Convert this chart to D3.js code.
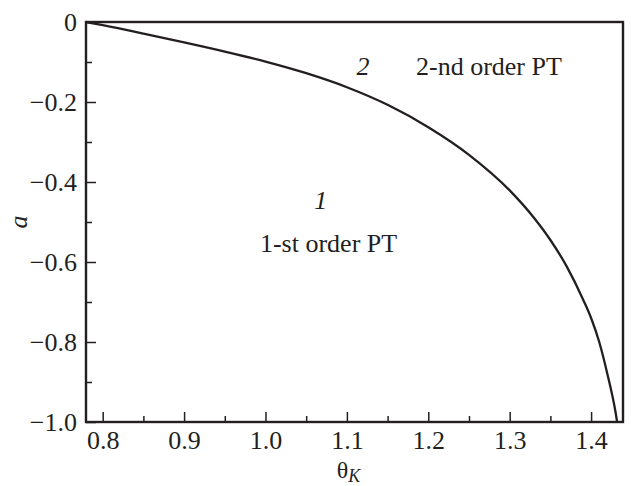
<!DOCTYPE html>
<html>
<head>
<meta charset="utf-8">
<script src="https://cdn.jsdelivr.net/npm/d3@7"></script>
<style>
  body { margin: 0; background: #fff; }
</style>
</head>
<body>
<div id="chart"></div>
<script>
// Phase boundary a(theta_K)
const theta = [0.7795, 0.80, 0.85, 0.90, 0.95, 1.00, 1.05, 1.10, 1.15, 1.20, 1.25, 1.30, 1.33, 1.35, 1.37, 1.39, 1.40, 1.41, 1.42, 1.43, 1.432];
const aVals = [0, -0.008, -0.029, -0.051, -0.074, -0.099, -0.128, -0.163, -0.207, -0.263, -0.332, -0.421, -0.490, -0.545, -0.611, -0.693, -0.740, -0.800, -0.880, -0.975, -1.0];

const xMajor = [0.8, 0.9, 1.0, 1.1, 1.2, 1.3, 1.4];
const xMinor = [0.85, 0.95, 1.05, 1.15, 1.25, 1.35];
const yMajor = [0, -0.2, -0.4, -0.6, -0.8, -1.0];
const yMinor = [-0.1, -0.3, -0.5, -0.7, -0.9];

// Region annotations (data coordinates)
const notes = [
    { text: "2", theta: 1.1198, a: -0.1325, italic: true, anchor: "middle" },
    { text: "2-nd order PT", theta: 1.1849, a: -0.1325, italic: false, anchor: "start" },
    { text: "1", theta: 1.068, a: -0.4675, italic: true, anchor: "middle" },
    { text: "1-st order PT", theta: 0.9932, a: -0.575, italic: false, anchor: "start" }
];

const W = 631, H = 486;
const margin = { top: 22, right: 8, bottom: 64, left: 86 };
const width = W - margin.left - margin.right;
const height = H - margin.top - margin.bottom;
const ink = "#231f20";
const serif = "'Liberation Serif', 'Times New Roman', serif";

const svg = d3.select("#chart")
    .append("svg")
    .attr("width", W)
    .attr("height", H)
    .append("g")
    .attr("transform", `translate(${margin.left},${margin.top})`);

const x = d3.scaleLinear().domain([0.7795, 1.4392]).range([0, width]);
const y = d3.scaleLinear().domain([-1, 0]).range([height, 0]);

const fmtY = d => d === 0 ? "0" : d3.format(".1f")(d).replace("-", "\u2212");

// Major ticks with labels
svg.append("g")
    .attr("transform", `translate(0,${height})`)
    .call(d3.axisBottom(x).tickValues(xMajor).tickFormat(d3.format(".1f"))
        .tickSize(-10).tickPadding(9));
svg.append("g")
    .call(d3.axisLeft(y).tickValues(yMajor).tickFormat(fmtY)
        .tickSize(-10).tickPadding(9));

// Minor ticks
svg.append("g")
    .attr("transform", `translate(0,${height})`)
    .call(d3.axisBottom(x).tickValues(xMinor).tickFormat("").tickSize(-6));
svg.append("g")
    .call(d3.axisLeft(y).tickValues(yMinor).tickFormat("").tickSize(-6));

svg.selectAll(".domain").remove();
svg.selectAll(".tick line").attr("stroke", ink).attr("stroke-width", 1.5);
svg.selectAll(".tick text")
    .style("font-size", "26px")
    .style("font-family", serif)
    .attr("fill", ink);

// Curve
const line = d3.line()
    .x((d, i) => x(theta[i]))
    .y(d => y(d))
    .curve(d3.curveMonotoneX);

svg.append("path")
    .datum(aVals)
    .attr("fill", "none")
    .attr("stroke", ink)
    .attr("stroke-width", 2.3)
    .attr("d", line);

// Frame
svg.append("rect")
    .attr("x", 0)
    .attr("y", 0)
    .attr("width", width)
    .attr("height", height)
    .attr("fill", "none")
    .attr("stroke", ink)
    .attr("stroke-width", 2.4);

// Annotations
notes.forEach(n => {
    svg.append("text")
        .attr("x", x(n.theta))
        .attr("y", y(n.a))
        .attr("text-anchor", n.anchor)
        .attr("fill", ink)
        .style("font-family", serif)
        .style("font-size", "26px")
        .style("font-style", n.italic ? "italic" : "normal")
        .text(n.text);
});

// Axis titles
const xt = svg.append("text")
    .attr("x", width / 2 - 6)
    .attr("y", height + 56)
    .attr("text-anchor", "middle")
    .attr("fill", ink)
    .style("font-family", serif)
    .style("font-size", "24px");
xt.append("tspan").text("\u03b8");
xt.append("tspan")
    .attr("dy", 4)
    .style("font-size", "18px")
    .style("font-style", "italic")
    .text("K");

svg.append("text")
    .attr("transform", `translate(${-59},${height / 2}) rotate(-90)`)
    .attr("text-anchor", "middle")
    .attr("fill", ink)
    .style("font-family", serif)
    .style("font-size", "26px")
    .style("font-style", "italic")
    .text("a");
</script>
</body>
</html>
